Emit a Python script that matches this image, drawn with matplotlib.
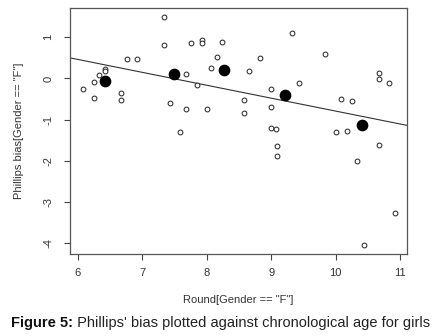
import matplotlib
matplotlib.use("Agg")
import matplotlib.pyplot as plt
import numpy as np

plt.rcParams['font.family'] = ['Liberation Sans', 'DejaVu Sans']

# open points: chronological age (Round) vs Phillips bias
round_f = [7.335, 7.335, 6.756, 6.924, 6.427, 6.427, 6.331, 6.241, 6.075, 6.241,
           6.671, 6.671, 7.429, 7.677, 7.587, 7.677, 7.843, 7.762, 7.925, 7.925,
           8.241, 8.166, 8.073, 8.660, 8.831, 9.328, 8.008, 8.582, 8.582, 8.997,
           8.997, 9.005, 9.082, 9.085, 9.085, 9.835, 9.427, 10.079, 10.250, 10.669,
           10.669, 10.834, 10.006, 10.172, 10.669, 10.332, 10.927, 10.436]
bias_f = [1.495, 0.816, 0.481, 0.468, 0.23, 0.19, 0.092, -0.085, -0.26, -0.466,
          -0.364, -0.527, -0.604, 0.104, -1.303, -0.745, -0.150, 0.869, 0.925, 0.864,
          0.888, 0.512, 0.243, 0.177, 0.485, 1.095, -0.738, -0.534, -0.850, -0.260,
          -0.689, -1.194, -1.218, -1.650, -1.879, 0.597, -0.107, -0.510, -0.558, 0.121,
          -0.024, -0.107, -1.299, -1.267, -1.612, -2.007, -3.262, -4.046]

# filled points: group means
mean_round = [6.424, 7.495, 8.272, 9.21, 10.41]
mean_bias = [-0.073, 0.104, 0.209, -0.413, -1.133]

# regression line coefficients
intercept = 2.339
slope = -0.313

x_ticks = [6, 7, 8, 9, 10, 11]
y_ticks = [-4, -3, -2, -1, 0, 1]

fig = plt.figure(figsize=(4.37, 3.36), dpi=100)
ax = fig.add_axes([70/437, 1-254/336, 337/437, 246/336])

tc = '#333333'
ax.scatter(round_f, bias_f, s=12, facecolors='white', edgecolors='#222222',
           linewidths=0.7, zorder=3)
ax.scatter(mean_round, mean_bias, s=55, color='black', zorder=4)

xlim = (5.876, 11.11)
ax.set_xlim(*xlim)
ax.set_ylim(-4.26, 1.71)
xl = np.array(xlim)
ax.plot(xl, intercept + slope * xl, color='#333333', lw=0.8, zorder=2)

ax.set_xticks(x_ticks)
ax.set_yticks(y_ticks)
ax.set_xticklabels([str(t) for t in x_ticks])
ax.set_yticklabels([str(t) for t in y_ticks], rotation=90, va='center')
ax.tick_params(direction='out', length=4, width=0.8, colors='#444444',
               labelcolor=tc, labelsize=8)
ax.tick_params(axis='x', pad=6)
ax.tick_params(axis='y', pad=8)
for sp in ax.spines.values():
    sp.set_color('#555555')
    sp.set_linewidth(0.9)

ax.set_xlabel('Round[Gender == "F"]', fontsize=8, color=tc, labelpad=12)
ax.set_ylabel('Phillips bias[Gender == "F"]', fontsize=8, color=tc, labelpad=14)

t1 = fig.text(11/437, 1-323/336, 'Figure 5:', fontsize=10.5, fontweight='bold',
              color='#111111', va='center', ha='left')
ax.annotate(" Phillips' bias plotted against chronological age for girls",
            xy=(1, 0.5), xycoords=t1, va='center', ha='left',
            fontsize=10.5, color='#222222', annotation_clip=False)

fig.savefig('out.png', dpi=100)
